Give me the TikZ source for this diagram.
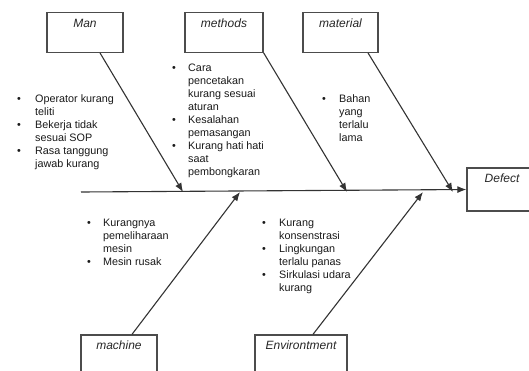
\documentclass[tikz,border=0pt]{standalone}
\usepackage{fontspec}
\setmainfont{Liberation Sans}
\usepackage{tikz}
\usetikzlibrary{arrows.meta}
\tikzstyle{line} = [draw=black!80, line width=1.1pt, -{Latex[length=9pt,width=7pt]}]
\tikzstyle{cause} = [draw=black!70, line width=1.3pt, inner sep=0pt]
\tikzstyle{causename} = [anchor=north, inner sep=0pt, font=\fontsize{12}{14}\selectfont\itshape, text=black!85]
\tikzstyle{notes} = [anchor=base west, inner sep=0pt, font=\fontsize{10.8}{13}\selectfont, text=black!90]
\newcommand{\bl}{\textbullet}

\begin{document}
\begin{tikzpicture}[x=1pt,y=-1pt]
    \useasboundingbox (0,0) rectangle (529,370);
    \clip (0,0) rectangle (529,370);

        % the boxes
        \node[cause,minimum width=76pt,minimum height=39.5pt] (man) at (85,32.5) {};
        \node[causename] (manname) at (85,19) {Man};
        \node[cause,minimum width=78pt,minimum height=39.5pt] (methods) at (224,32.5) {};
        \node[causename] (methodsname) at (224,19) {methods};
        \node[cause,minimum width=75pt,minimum height=39.5pt] (material) at (340.5,32.5) {};
        \node[causename] (materialname) at (340.5,19) {material};
        \node[cause,minimum width=77pt,minimum height=43pt] (defect) at (505.5,189.5) {};
        \node[causename] (defectname) at (502,174) {Defect};
        \node[cause,minimum width=76pt,minimum height=40pt] (machine) at (119,355) {};
        \node[causename] (machinename) at (119,341) {machine};
        \node[cause,minimum width=92pt,minimum height=40pt] (envir) at (301,355) {};
        \node[causename] (envirname) at (301,341) {Environtment};

        % the causes
        \node[notes] (mannotes) at (17,102) {\begin{tabular}[t]{@{}p{18pt}@{}l@{}}
            \bl & Operator kurang\\ & teliti\\ \bl & Bekerja tidak\\ & sesuai SOP\\
            \bl & Rasa tanggung\\ & jawab kurang\end{tabular}};
        \node[notes] (methodsnotes) at (172,71.5) {\begin{tabular}[t]{@{}p{16pt}@{}l@{}}
            \bl & Cara\\ & pencetakan\\ & kurang sesuai\\ & aturan\\
            \bl & Kesalahan\\ & pemasangan\\ \bl & Kurang hati hati\\ & saat\\ & pembongkaran\end{tabular}};
        \node[notes] (materialnotes) at (322,102) {\begin{tabular}[t]{@{}p{17pt}@{}l@{}}
            \bl & Bahan\\ & yang\\ & terlalu\\ & lama\end{tabular}};
        \node[notes] (machinenotes) at (87,226.5) {\begin{tabular}[t]{@{}p{16pt}@{}l@{}}
            \bl & Kurangnya\\ & pemeliharaan\\ & mesin\\ \bl & Mesin rusak\end{tabular}};
        \node[notes] (envirnotes) at (262,226.5) {\begin{tabular}[t]{@{}p{17pt}@{}l@{}}
            \bl & Kurang\\ & konsenstrasi\\ \bl & Lingkungan\\ & terlalu panas\\
            \bl & Sirkulasi udara\\ & kurang\end{tabular}};

    \coordinate (spinestart) at (81,192);
    \coordinate (manend) at (183,192);
    \coordinate (methodsend) at (347,192);
    \coordinate (materialend) at (453,192);
    \coordinate (machineend) at (240,192);
    \coordinate (envirend) at (423,192);

    \draw[line] (spinestart) -- (defect.west);
    \draw[line] ([xshift=15pt]man.south) -- (manend);
    \draw[line] (methods.south east) -- (methodsend);
    \draw[line] ([xshift=27.5pt]material.south) -- (materialend);
    \draw[line] ([xshift=13pt]machine.north) -- (machineend);
    \draw[line] ([xshift=12pt]envir.north) -- (envirend);

    \end{tikzpicture}
\end{document}
